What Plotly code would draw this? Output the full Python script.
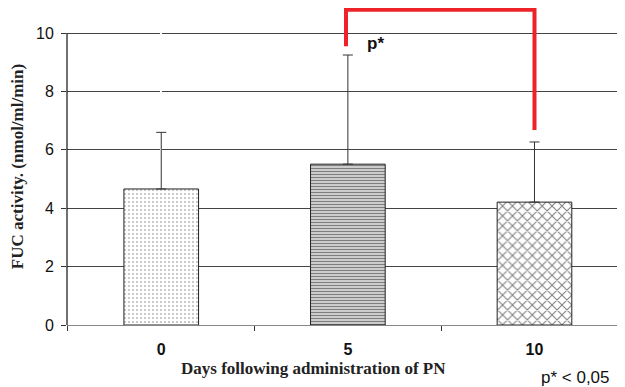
import plotly.graph_objects as go

categories = ["0", "5", "10"]
means = [4.66, 5.51, 4.21]
err_upper = [1.94, 3.74, 2.06]
patterns = [".", "-", "x"]
y_ticks = [0, 2, 4, 6, 8, 10]
x_title = "Days following administration of PN"
y_title = "FUC activity. (nmol/ml/min)"

# significance bracket (data units): between day 5 and day 10
bracket_top = 10.8
bracket_left_bottom = 9.55
bracket_right_bottom = 6.68

fig = go.Figure()
fig.add_trace(go.Bar(
    x=[0, 1, 2],
    y=means,
    width=0.40,
    marker=dict(
        color="white",
        line=dict(color="#222", width=1),
        pattern=dict(shape=patterns, fgcolor="#000", bgcolor="white",
                     size=[4, 3, 7], solidity=[0.12, 0.6, 0.28]),
    ),
    error_y=dict(type="data", symmetric=False, array=err_upper,
                 arrayminus=[0, 0, 0], color="#333", thickness=1, width=5),
    showlegend=False,
))

# red bracket
fig.add_shape(type="path",
              path=f"M 0.99,{bracket_left_bottom} L 0.99,{bracket_top} L 2.0,{bracket_top} L 2.0,{bracket_right_bottom}",
              xref="x", yref="y", line=dict(color="#ee2229", width=4))

# y axis line from 0 to 10
fig.add_shape(type="line", xref="paper", yref="y", x0=0, x1=0, y0=0, y1=10,
              line=dict(color="#111", width=1.2))

fig.add_annotation(x=1.15, y=9.66, xref="x", yref="y", text="p*", showarrow=False,
                   font=dict(family="Liberation Sans", size=17, color="#111", weight="bold"))
fig.add_annotation(x=0.912, y=-0.167, xref="paper", yref="paper", xanchor="center", yanchor="middle",
                   text="p* < 0,05", showarrow=False,
                   font=dict(family="Liberation Sans", size=17, color="#111"))
fig.add_annotation(x=0.441, y=-0.136, xref="paper", yref="paper", xanchor="center", yanchor="middle",
                   text=x_title, showarrow=False,
                   font=dict(family="Liberation Serif", size=17, color="#222", weight="bold"))

fig.update_layout(
    width=617, height=379,
    margin=dict(l=59, r=0, t=0, b=62),
    paper_bgcolor="white", plot_bgcolor="white",
    bargap=0.6,
)
fig.update_xaxes(
    range=[-0.505, 2.485], automargin=False,
    tickmode="array", tickvals=[0, 1, 2], ticktext=categories,
    ticks="", showgrid=False, showline=True, linecolor="#888", linewidth=1,
    ticklabelstandoff=10,
    tickfont=dict(family="Liberation Sans", size=16, color="#111", weight="bold"),
    zeroline=False,
)
# boundary tick marks on x axis
fig.update_layout(xaxis2=dict(overlaying="x", range=[-0.505, 2.485], tickmode="array",
                              tickvals=[-0.5, 0.5, 1.5, 2.5], ticks="outside", ticklen=5,
                              tickcolor="#333", showticklabels=False, showgrid=False,
                              side="bottom", anchor="y", automargin=False))
fig.add_trace(go.Scatter(x=[None], y=[None], xaxis="x2", showlegend=False))
fig.update_yaxes(
    range=[0, 10.86], automargin=False,
    tickmode="array", tickvals=y_ticks,
    ticks="outside", ticklen=5, tickcolor="#333",
    showgrid=True, gridcolor="#444", gridwidth=1,
    showline=False, zeroline=False,
    ticklabelstandoff=4,
    tickfont=dict(family="Liberation Sans", size=16, color="#111"),
    title=dict(text=y_title,
               font=dict(family="Liberation Serif", size=17, color="#222", weight="bold"),
               standoff=13),
)
fig.write_html("out.html")
